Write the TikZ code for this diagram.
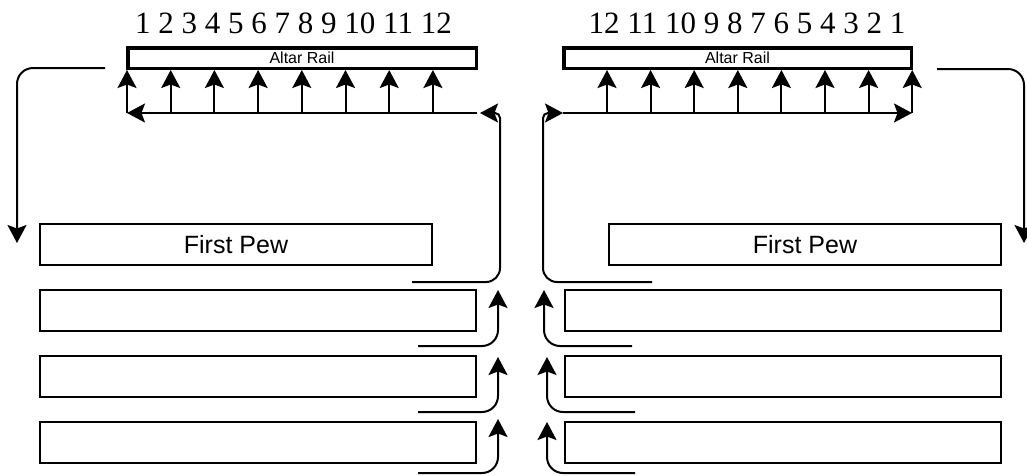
\documentclass[tikz,border=0pt]{standalone}
\usepackage{fontspec}
\setmainfont{Liberation Serif}
\newfontfamily\arial{Liberation Sans}
\usetikzlibrary{arrows.meta}
\tikzset{
  flow/.style={line width=2pt, -{Stealth[length=18pt,width=19pt,inset=3.5pt]}},
  rail/.style={draw, line width=3.5pt, rectangle, inner sep=0pt,
    minimum height=20.5pt, font=\arial\fontsize{16}{17}\selectfont},
  pew/.style={draw, line width=2.4pt, rectangle, inner sep=0pt,
    minimum height=41pt, font=\arial\fontsize{25}{28}\selectfont},
  nums/.style={inner sep=0pt, font=\fontsize{31}{34}\selectfont},
}
\begin{document}
\begin{tikzpicture}[x=1pt, y=-1pt]
\useasboundingbox (0,0) rectangle (1027,475);

% seat numbers along each rail
\node[nums] (numL) at (293.5,23) {1 2 3 4 5 6 7 8 9 10 11 12};
\node[nums] (numR) at (747,23) {12 11 10 9 8 7 6 5 4 3 2 1};

% the two altar rails
\node[rail, minimum width=348.5pt] (railL) at (302,58) {Altar Rail};
\node[rail, minimum width=347.5pt] (railR) at (737.5,58) {Altar Rail};

% pews, left side
\node[pew, minimum width=392pt] (pewL1) at (236,244.5) {First Pew};
\node[pew, minimum width=436pt] (pewL2) at (258,310.5) {};
\node[pew, minimum width=436pt] (pewL3) at (258,376.5) {};
\node[pew, minimum width=436pt] (pewL4) at (258,442.5) {};

% pews, right side
\node[pew, minimum width=392pt] (pewR1) at (805,244.5) {First Pew};
\node[pew, minimum width=436pt] (pewR2) at (783,310.5) {};
\node[pew, minimum width=436pt] (pewR3) at (783,376.5) {};
\node[pew, minimum width=436pt] (pewR4) at (783,442.5) {};

% walkway below the left rail
\coordinate (walkLa) at (477,113);
\coordinate (walkLb) at (127,113);
\draw[flow] (walkLa) -- (walkLb);
\foreach \x in {127,170.7,214.4,258.1,301.8,345.5,389.2,432.9}
  \draw[flow] (\x,113) -- (railL.south -| \x,0);

% walkway below the right rail
\coordinate (walkRa) at (563,113);
\coordinate (walkRb) at (912,113);
\draw[flow] (walkRa) -- (walkRb);
\foreach \x in {607,650.6,694.2,737.8,781.4,825,868.6,912.2}
  \draw[flow] (\x,113) -- (railR.south -| \x,0);

% centre aisle, left: up from the first pew to the rail
\coordinate (aisleL0) at (412,282);
\coordinate (aisleLt) at (480,113);
\draw[flow, rounded corners=14pt] (aisleL0) -- (500,282)
  [rounded corners=5pt] -- (500,113) -- (aisleLt);

% centre aisle, right
\coordinate (aisleR0) at (652,282);
\coordinate (aisleRt) at (563,113);
\draw[flow, rounded corners=14pt] (aisleR0) -- (543,282)
  [rounded corners=5pt] -- (543,113) -- (aisleRt);

% the other pews step out into the aisle, left
\coordinate (exL2) at (418,346);
\coordinate (exL3) at (418,412);
\coordinate (exL4) at (418,473);
\draw[flow, rounded corners=16pt] (exL2) -- (498,346) -- (498,290);
\draw[flow, rounded corners=16pt] (exL3) -- (498,412) -- (498,357);
\draw[flow, rounded corners=16pt] (exL4) -- (498,473) -- (498,419);

% the other pews step out into the aisle, right
\coordinate (exR2) at (632,346);
\coordinate (exR3) at (635,412);
\coordinate (exR4) at (635,473);
\draw[flow, rounded corners=16pt] (exR2) -- (544,346) -- (544,290);
\draw[flow, rounded corners=16pt] (exR3) -- (547,412) -- (547,357);
\draw[flow, rounded corners=16pt] (exR4) -- (547,473) -- (547,422);

% return paths along the outer walls
\coordinate (outL0) at (105,68);
\coordinate (outLt) at (17,243);
\draw[flow, rounded corners=16pt] (outL0) -- (17,68) -- (outLt);
\coordinate (outR0) at (937,69);
\coordinate (outRt) at (1024,243);
\draw[flow, rounded corners=16pt] (outR0) -- (1024,69) -- (outRt);
\end{tikzpicture}
\end{document}
